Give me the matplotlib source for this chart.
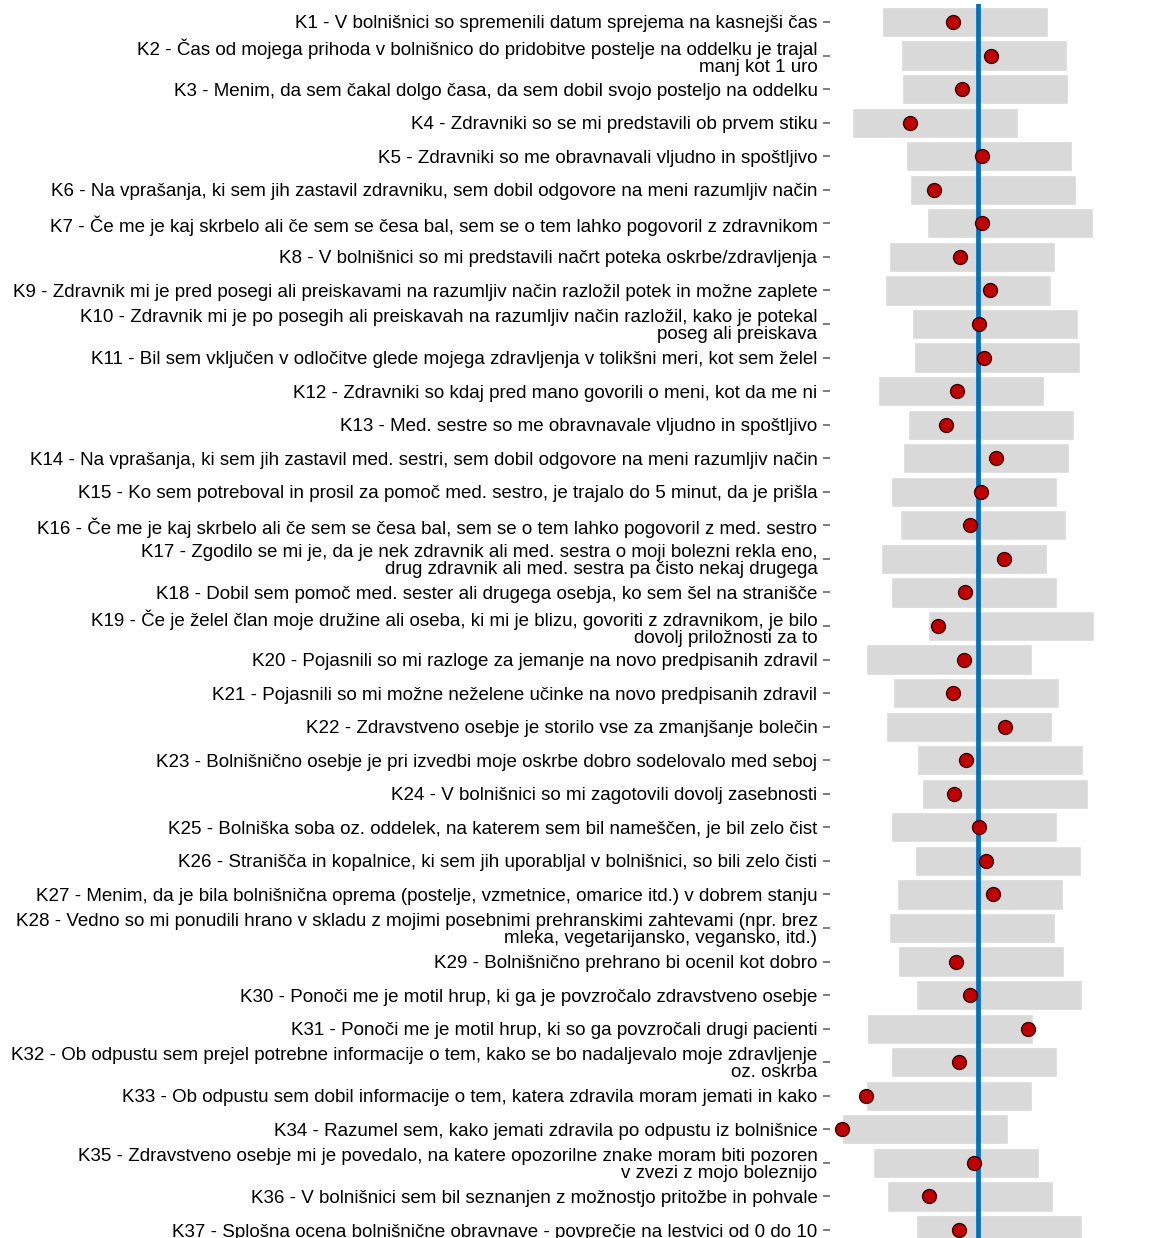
import numpy as np
import matplotlib
matplotlib.use("Agg")
import matplotlib.pyplot as plt

plt.rcParams['font.family'] = ['Liberation Sans', 'DejaVu Sans']

labels = [
    "K1 - V bolnišnici so spremenili datum sprejema na kasnejši čas",
    "K2 - Čas od mojega prihoda v bolnišnico do pridobitve postelje na oddelku je trajal\nmanj kot 1 uro",
    "K3 - Menim, da sem čakal dolgo časa, da sem dobil svojo posteljo na oddelku",
    "K4 - Zdravniki so se mi predstavili ob prvem stiku",
    "K5 - Zdravniki so me obravnavali vljudno in spoštljivo",
    "K6 - Na vprašanja, ki sem jih zastavil zdravniku, sem dobil odgovore na meni razumljiv način",
    "K7 - Če me je kaj skrbelo ali če sem se česa bal, sem se o tem lahko pogovoril z zdravnikom",
    "K8 - V bolnišnici so mi predstavili načrt poteka oskrbe/zdravljenja",
    "K9 - Zdravnik mi je pred posegi ali preiskavami na razumljiv način razložil potek in možne zaplete",
    "K10 - Zdravnik mi je po posegih ali preiskavah na razumljiv način razložil, kako je potekal\nposeg ali preiskava",
    "K11 - Bil sem vključen v odločitve glede mojega zdravljenja v tolikšni meri, kot sem želel",
    "K12 - Zdravniki so kdaj pred mano govorili o meni, kot da me ni",
    "K13 - Med. sestre so me obravnavale vljudno in spoštljivo",
    "K14 - Na vprašanja, ki sem jih zastavil med. sestri, sem dobil odgovore na meni razumljiv način",
    "K15 - Ko sem potreboval in prosil za pomoč med. sestro, je trajalo do 5 minut, da je prišla",
    "K16 - Če me je kaj skrbelo ali če sem se česa bal, sem se o tem lahko pogovoril z med. sestro",
    "K17 - Zgodilo se mi je, da je nek zdravnik ali med. sestra o moji bolezni rekla eno,\ndrug zdravnik ali med. sestra pa čisto nekaj drugega",
    "K18 - Dobil sem pomoč med. sester ali drugega osebja, ko sem šel na stranišče",
    "K19 - Če je želel član moje družine ali oseba, ki mi je blizu, govoriti z zdravnikom, je bilo\ndovolj priložnosti za to",
    "K20 - Pojasnili so mi razloge za jemanje na novo predpisanih zdravil",
    "K21 - Pojasnili so mi možne neželene učinke na novo predpisanih zdravil",
    "K22 - Zdravstveno osebje je storilo vse za zmanjšanje bolečin",
    "K23 - Bolnišnično osebje je pri izvedbi moje oskrbe dobro sodelovalo med seboj",
    "K24 - V bolnišnici so mi zagotovili dovolj zasebnosti",
    "K25 - Bolniška soba oz. oddelek, na katerem sem bil nameščen, je bil zelo čist",
    "K26 - Stranišča in kopalnice, ki sem jih uporabljal v bolnišnici, so bili zelo čisti",
    "K27 - Menim, da je bila bolnišnična oprema (postelje, vzmetnice, omarice itd.) v dobrem stanju",
    "K28 - Vedno so mi ponudili hrano v skladu z mojimi posebnimi prehranskimi zahtevami (npr. brez\nmleka, vegetarijansko, vegansko, itd.)",
    "K29 - Bolnišnično prehrano bi ocenil kot dobro",
    "K30 - Ponoči me je motil hrup, ki ga je povzročalo zdravstveno osebje",
    "K31 - Ponoči me je motil hrup, ki so ga povzročali drugi pacienti",
    "K32 - Ob odpustu sem prejel potrebne informacije o tem, kako se bo nadaljevalo moje zdravljenje\noz. oskrba",
    "K33 - Ob odpustu sem dobil informacije o tem, katera zdravila moram jemati in kako",
    "K34 - Razumel sem, kako jemati zdravila po odpustu iz bolnišnice",
    "K35 - Zdravstveno osebje mi je povedalo, na katere opozorilne znake moram biti pozoren\nv zvezi z mojo boleznijo",
    "K36 - V bolnišnici sem bil seznanjen z možnostjo pritožbe in pohvale",
    "K37 - Splošna ocena bolnišnične obravnave - povprečje na lestvici od 0 do 10",
]

# centre of the grey reference interval (interval is +-1 around it)
band_center = [-0.15, 0.07, 0.09, -0.51, 0.14, 0.18, 0.39, -0.07, -0.12, 0.21,
               0.23, -0.20, 0.16, 0.10, -0.04, 0.06, -0.16, -0.04, 0.40, -0.34,
               -0.02, -0.10, 0.27, 0.33, -0.05, 0.24, 0.03, -0.07, 0.04, 0.26,
               -0.33, -0.05, -0.35, -0.63, -0.26, -0.09, 0.26]
band_half = 1.0

# hospital result (K28 has no value)
hospital = [-0.30, 0.16, -0.19, -0.81, 0.05, -0.53, 0.05, -0.21, 0.15, 0.02,
            0.08, -0.25, -0.38, 0.22, 0.04, -0.09, 0.32, -0.15, -0.48, -0.16,
            -0.30, 0.33, -0.14, -0.28, 0.01, 0.10, 0.18, np.nan, -0.26, -0.09,
            0.61, -0.23, -1.35, -1.63, -0.04, -0.59, -0.22]

reference = 0.0

n = len(labels)
y = np.arange(n)
left = np.array(band_center) - band_half

fig = plt.figure(figsize=(11.76, 12.38), dpi=100)
ax = fig.add_axes([830 / 1176, 0, 1 - 830 / 1176, 1 - 4 / 1238])

ax.barh(y, 2 * band_half, left=left, height=0.9, color='#d9d9d9',
        edgecolor='white', linewidth=1, zorder=1)
ax.axvline(reference, color='#0070c0', linewidth=3.4, zorder=2)
ax.plot(hospital, y, 'o', color='#c00000', markeredgecolor='#3a0000',
        markersize=10, markeredgewidth=1, zorder=3)

ax.set_yticks(y)
ax.set_yticklabels(labels, fontsize=13.5, linespacing=1.0)
ax.tick_params(axis='y', length=5, width=1.2, color='#666666', pad=4)
ax.set_xticks([])
ax.set_ylim(36.238, -0.536)
ax.set_xlim((830 - 977.7) / 83, (1176 - 977.7) / 83)
for s in ax.spines.values():
    s.set_visible(False)

fig.savefig('out.png', dpi=100)
